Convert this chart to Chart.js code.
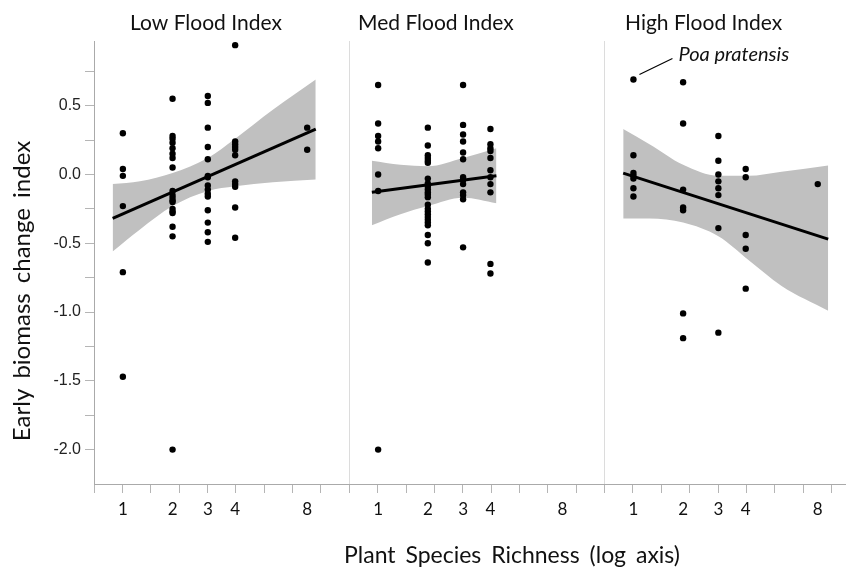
<!DOCTYPE html>
<html>
<head>
<meta charset="utf-8">
<title>Early biomass change by flood index</title>
<script src="https://cdn.jsdelivr.net/npm/chart.js@4.4.0/dist/chart.umd.min.js"></script>
<style>
  html, body { margin: 0; padding: 0; background: #fff; overflow: hidden; }
  #wrap { width: 849px; height: 579px; }
</style>
</head>
<body>
<div id="wrap"><canvas id="floodChart" width="849" height="579"></canvas></div>
<script>
'use strict';

// richness groups (x axis is log(richness + 1))
const richness = [1, 2, 3, 4, 8];
const panelNames = ['Low Flood Index', 'Med Flood Index', 'High Flood Index'];
const yTicks = [-2.0, -1.75, -1.5, -1.25, -1.0, -0.75, -0.5, -0.25, 0, 0.25, 0.5, 0.75];

// early biomass change index, one list per richness group
const lowFlood = [
  [0.30, 0.04, -0.01, -0.23, -0.71, -1.47],
  [0.55, 0.28, 0.26, 0.23, 0.19, 0.15, 0.12, 0.05, -0.12, -0.15, -0.17, -0.19, -0.20, -0.25, -0.27, -0.28, -0.38, -0.45, -2.00],
  [0.57, 0.52, 0.34, 0.20, 0.11, -0.01, -0.02, -0.08, -0.11, -0.14, -0.16, -0.26, -0.35, -0.42, -0.49],
  [0.94, 0.24, 0.22, 0.20, 0.18, 0.14, -0.05, -0.07, -0.09, -0.24, -0.46],
  [0.34, 0.18]
];
const medFlood = [
  [0.65, 0.37, 0.28, 0.24, 0.19, 0.00, -0.12, -2.00],
  [0.34, 0.21, 0.14, 0.12, 0.10, 0.085, -0.03, -0.065, -0.09, -0.11, -0.13, -0.145, -0.165, -0.22, -0.25, -0.27, -0.29, -0.31, -0.33, -0.35, -0.37, -0.44, -0.50, -0.64],
  [0.65, 0.36, 0.29, 0.24, 0.16, 0.11, -0.02, -0.04, -0.07, -0.13, -0.15, -0.18, -0.53],
  [0.33, 0.22, 0.19, 0.17, 0.12, 0.03, -0.02, -0.07, -0.13, -0.65, -0.72],
  []
];
const highFlood = [
  [0.69, 0.14, 0.01, -0.01, -0.03, -0.10, -0.16],
  [0.67, 0.37, -0.11, -0.24, -0.26, -1.01, -1.19],
  [0.28, 0.10, 0.00, -0.05, -0.10, -0.15, -0.39, -1.15],
  [0.04, -0.02, -0.44, -0.54, -0.83],
  [-0.07]
];

// fitted lines (start / end per panel)
const fitStartR = [0.84, 0.90, 0.84];
const fitEndR = [8.65, 4.25, 8.80];
const fitStartV = [-0.32, -0.13, 0.01];
const fitEndV = [0.33, -0.01, -0.47];

// confidence bands
const lowBandR = [0.84, 1.3, 2, 3, 4, 5.8, 8.65];
const lowBandHi = [-0.07, -0.05, 0.01, 0.12, 0.26, 0.47, 0.69];
const lowBandLo = [-0.56, -0.40, -0.23, -0.12, -0.085, -0.056, -0.036];
const medBandR = [0.90, 1.4, 2, 3, 4.25];
const medBandHi = [0.10, 0.07, 0.06, 0.12, 0.19];
const medBandLo = [-0.37, -0.29, -0.23, -0.17, -0.21];
const highBandR = [0.84, 1.28, 2, 3, 4.1, 5.7, 8.80];
const highBandHi = [0.33, 0.22, 0.07, -0.01, -0.01, 0.02, 0.065];
const highBandLo = [-0.32, -0.32, -0.35, -0.45, -0.62, -0.81, -0.99];

const PANEL_W = 2.083;     // width of one panel in log units
const LOG_START = 0.4576;  // log(r+1) at a panel's left edge
const X_MAX = 6.128;

function xPos(panel, r) {
  return panel * PANEL_W + Math.log(r + 1) - LOG_START;
}

const datasets = [];

// scatter points
[lowFlood, medFlood, highFlood].forEach(function(groups, p) {
  const pts = [];
  groups.forEach(function(vals, i) {
    vals.forEach(function(v) { pts.push({x: xPos(p, richness[i]), y: v}); });
  });
  datasets.push({type: 'scatter', data: pts, pointRadius: 3.2, pointBackgroundColor: '#000', pointBorderWidth: 0});
});

// fit lines
for (let p = 0; p < 3; p++) {
  datasets.push({
    type: 'line',
    data: [{x: xPos(p, fitStartR[p]), y: fitStartV[p]}, {x: xPos(p, fitEndR[p]), y: fitEndV[p]}],
    borderColor: '#000', borderWidth: 3, pointRadius: 0, fill: false
  });
}

// bands (upper fills down to the lower one)
const bandR = [lowBandR, medBandR, highBandR];
const bandHi = [lowBandHi, medBandHi, highBandHi];
const bandLo = [lowBandLo, medBandLo, highBandLo];
for (let p = 0; p < 3; p++) {
  datasets.push({
    type: 'line',
    data: bandR[p].map((r, i) => ({x: xPos(p, r), y: bandHi[p][i]})),
    borderWidth: 0, borderColor: 'rgba(0,0,0,0)', pointRadius: 0,
    cubicInterpolationMode: 'monotone', fill: '+1', backgroundColor: '#c0c0c0'
  });
  datasets.push({
    type: 'line',
    data: bandR[p].map((r, i) => ({x: xPos(p, r), y: bandLo[p][i]})),
    borderWidth: 0, borderColor: 'rgba(0,0,0,0)', pointRadius: 0,
    cubicInterpolationMode: 'monotone', fill: false
  });
}

const textPlugin = {
  id: 'panelText',
  afterDraw(chart) {
    const ctx = chart.ctx;
    const xs = chart.scales.x;
    const ys = chart.scales.y;
    ctx.save();
    ctx.fillStyle = '#111';
    ctx.textAlign = 'left';
    ctx.textBaseline = 'alphabetic';
    ctx.font = '21px Lato';
    const titleLeft = [130, 358, 625];
    panelNames.forEach((name, i) => ctx.fillText(name, titleLeft[i], 30));

    // x axis title
    ctx.textAlign = 'center';
    ctx.font = '23px Lato';
    ctx.wordSpacing = '4px';
    ctx.fillText('Plant Species Richness (log axis)', 512, 563);

    // y axis title
    ctx.save();
    ctx.translate(30, 291);
    ctx.rotate(-Math.PI / 2);
    ctx.font = '24px Lato';
    ctx.wordSpacing = '4px';
    ctx.fillText('Early biomass change index', 0, 0);
    ctx.restore();
    ctx.wordSpacing = '0px';

    // label for the top point of the high flood panel
    const px = xs.getPixelForValue(xPos(2, 1));
    const py = ys.getPixelForValue(highFlood[0][0]);
    ctx.strokeStyle = '#000';
    ctx.lineWidth = 1.2;
    ctx.beginPath();
    ctx.moveTo(px + 6, py - 5);
    ctx.lineTo(px + 39, py - 21);
    ctx.stroke();
    ctx.textAlign = 'left';
    ctx.font = 'italic 20px Lato';
    ctx.fillText('Poa pratensis', px + 45, py - 19);
    ctx.restore();
  }
};

const chartObj = {
  type: 'scatter',
  data: {datasets: datasets},
  options: {
    responsive: false,
    animation: false,
    layout: {padding: {top: 41, left: 0, right: 0, bottom: 0}},
    plugins: {legend: {display: false}, tooltip: {enabled: false}},
    scales: {
      x: {
        type: 'linear',
        min: 0,
        max: X_MAX,
        afterFit(scale) {
          scale.height = 95;
          scale.paddingLeft = 0;
          scale.paddingRight = 0;
        },
        afterBuildTicks(scale) {
          const ticks = [];
          const step = PANEL_W / 9;
          for (let k = 0; k * step <= X_MAX + 1e-9; k++) {
            ticks.push({value: k * step, mark: true, edge: k > 0 && k % 9 === 0});
          }
          for (let p = 0; p < 3; p++) {
            richness.forEach(r => ticks.push({value: xPos(p, r), text: String(r)}));
          }
          ticks.sort((a, b) => a.value - b.value);
          scale.ticks = ticks;
        },
        ticks: {
          autoSkip: false,
          maxRotation: 0,
          padding: 6,
          color: '#111',
          font: {family: 'Lato', size: 17},
          callback: (v, i, ticks) => ticks[i].text || ''
        },
        grid: {
          drawOnChartArea: true,
          tickLength: 9,
          color: c => (c.tick && c.tick.edge ? '#dcdcdc' : 'rgba(0,0,0,0)'),
          tickColor: c => (c.tick && c.tick.mark ? '#b5b5b5' : 'rgba(0,0,0,0)')
        },
        border: {color: '#aaa', width: 1}
      },
      y: {
        type: 'linear',
        min: -2.25,
        max: 0.97,
        afterFit(scale) { scale.width = 94; },
        afterBuildTicks(scale) { scale.ticks = yTicks.map(v => ({value: v})); },
        ticks: {
          autoSkip: false,
          padding: 4,
          color: '#222',
          font: {family: 'Liberation Sans', size: 16},
          callback: v => (Math.abs(v * 2 - Math.round(v * 2)) < 1e-6 ? v.toFixed(1) : '')
        },
        grid: {drawOnChartArea: false, tickLength: 9, tickColor: '#b5b5b5'},
        border: {color: '#aaa', width: 1}
      }
    }
  },
  plugins: [textPlugin]
};

const ctx = document.getElementById('floodChart').getContext('2d');
const floodChart = new Chart(ctx, chartObj);
</script>
</body>
</html>
